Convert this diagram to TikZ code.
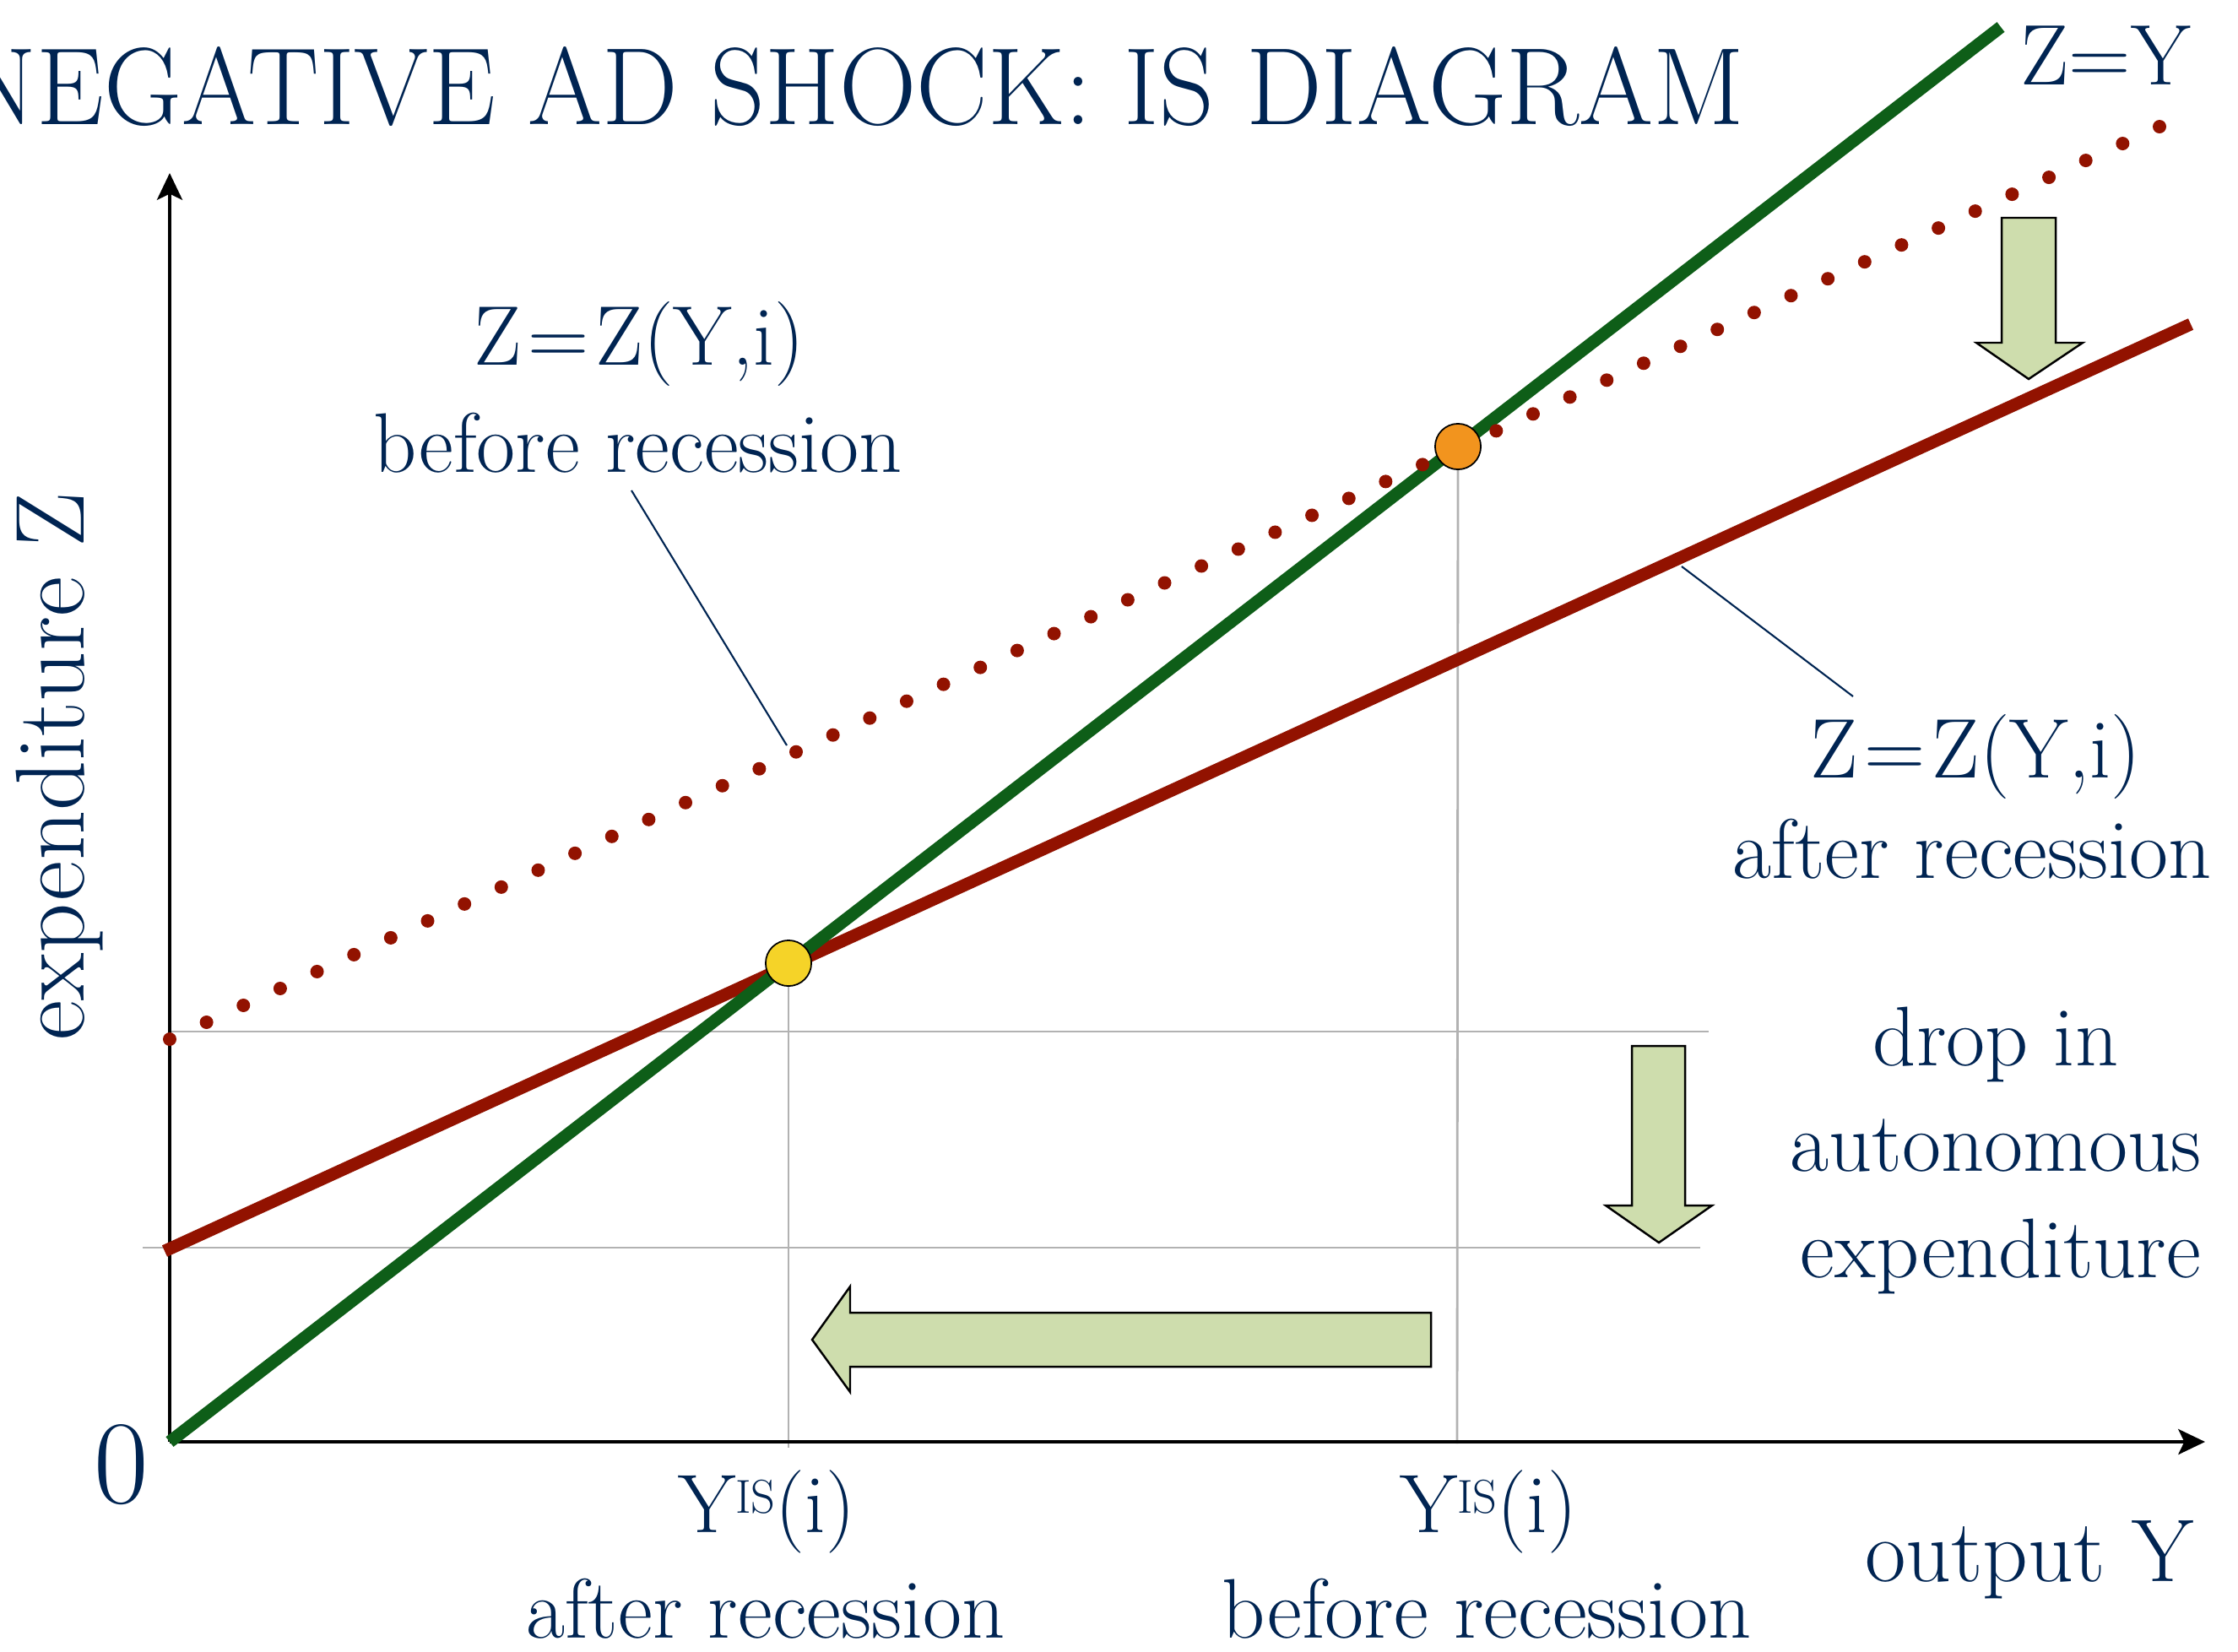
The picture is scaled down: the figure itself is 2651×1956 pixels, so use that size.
\documentclass[tikz,border=0pt]{standalone}
\usepackage{fontspec}
\usetikzlibrary{arrows.meta,calc}
\definecolor{navy}{RGB}{0,36,82}
\definecolor{lineGreen}{RGB}{14,94,24}
\definecolor{lineRed}{RGB}{146,18,0}
\definecolor{gridgray}{RGB}{178,178,178}
\definecolor{blockfill}{RGB}{206,221,173}
\definecolor{yellowpt}{RGB}{245,211,40}
\definecolor{orangept}{RGB}{242,148,30}
\newcommand{\setfs}[1]{\fontsize{#1pt}{#1pt}\selectfont}
\begin{document}
\begin{tikzpicture}[x=0.01cm,y=-0.01cm,
  lbl/.style={text=navy, inner sep=0pt, anchor=base},
  axisline/.style={line width=1.3pt, -{Stealth[length=9pt,width=8.5pt,inset=2pt]}},
  guide/.style={draw=gridgray, line width=0.8pt},
  leader/.style={draw=navy, line width=0.6pt},
  blockarrow/.style={fill=blockfill, draw=black, line width=0.7pt, line join=miter},
  eqpoint/.style={circle, draw=black, line width=0.5pt, minimum size=15.4pt, inner sep=0pt},
  curve/.style={line width=4.2pt}
]
\useasboundingbox (0,0) rectangle (2651,1956);

% guide lines
\coordinate (gA1) at (201,1222); \coordinate (gA2) at (2024,1222);
\coordinate (gB1) at (169,1478); \coordinate (gB2) at (2014,1478);
\coordinate (vA2) at (934,1715); \coordinate (vB2) at (1726,1710);
\coordinate (E1c) at (934,1141); \coordinate (E0c) at (1727,529);
\draw[guide] (gA1) -- (gA2);
\draw[guide] (gB1) -- (gB2);
\draw[guide] (E1c) -- (vA2);
\draw[guide] (E0c) -- (vB2);

% axes
\coordinate (O) at (201,1708);
\coordinate (Xend) at (2612,1708);
\coordinate (Yend) at (201,205);
\draw[axisline] (O) -- (Xend);
\draw[axisline] (O) -- (Yend);

% curves
\coordinate (R0) at (195,1482); \coordinate (R1) at (2595,384);
\coordinate (G1) at (2370,32);
\draw[curve, draw=lineRed] (R0) -- (R1);
\draw[curve, draw=lineGreen] (O) -- (G1);
\coordinate (D0) at (201,1231); \coordinate (D1) at (2558,150);
\foreach \i in {0,...,54} \fill[lineRed] ($(D0)!\i/54!(D1)$) circle (8);

% equilibrium points
\node[eqpoint, fill=yellowpt] (E1) at (E1c) {};
\node[eqpoint, fill=orangept] (E0) at (E0c) {};

% block arrows
\draw[blockarrow] (2371,258) -- (2435,258) -- (2435,406) -- (2467,406) -- (2403,449) -- (2341,406) -- (2371,406) -- cycle;
\draw[blockarrow] (1933,1239) -- (1996,1239) -- (1996,1428) -- (2028,1428) -- (1965,1472) -- (1902,1428) -- (1933,1428) -- cycle;
\draw[blockarrow] (1695,1555) -- (1695,1619) -- (1007,1619) -- (1007,1649) -- (962,1587) -- (1007,1524) -- (1007,1555) -- cycle;

% title
\node[lbl, anchor=base east] (title) at (2067,147) {\setfs{37}\scalebox{0.975}[1]{NEGATIVE AD SHOCK: IS DIAGRAM}};
\node[lbl] (zy) at (2494,100) {\setfs{29}Z=Y};

% curve labels
\node[lbl] (bfA) at (757,432) {\setfs{28.5}Z\hspace{0.08em}=\hspace{0.08em}Z(Y,i)};
\node[lbl] (bfB) at (756,559) {\setfs{28.5}before recession};
\coordinate (bfL1) at (748,581); \coordinate (bfL2) at (932,883);
\draw[leader] (bfL1) -- (bfL2);

\node[lbl] (afA) at (2340,921) {\setfs{28.5}Z\hspace{0.08em}=\hspace{0.08em}Z(Y,i)};
\node[lbl] (afB) at (2336,1040) {\setfs{28.5}after recession};
\coordinate (afL1) at (1992,671); \coordinate (afL2) at (2195,825);
\draw[leader] (afL1) -- (afL2);

\node[lbl] (dropA) at (2364,1262) {\setfs{28.5}drop in};
\node[lbl] (dropB) at (2364,1387) {\setfs{28.5}autonomous};
\node[lbl] (dropC) at (2370,1513) {\setfs{28.5}expenditure};

% axis labels
\node[lbl, rotate=90] (ylab) at (100,908) {\setfs{33}expenditure Z};
\node[lbl] (zero) at (144,1780) {\setfs{40}0};
\node[lbl] (xlab) at (2404,1873) {\setfs{30}output Y};

\node[lbl] (yisA) at (908,1815) {\setfs{28}Y\raisebox{6.3pt}{\setfs{16}IS}(i)};
\node[lbl] (yisAb) at (907,1940) {\setfs{28.5}after recession};
\node[lbl] (yisB) at (1763,1815) {\setfs{28}Y\raisebox{6.3pt}{\setfs{16}IS}(i)};
\node[lbl] (yisBb) at (1761,1940) {\setfs{28.5}before recession};
\end{tikzpicture}
\end{document}
